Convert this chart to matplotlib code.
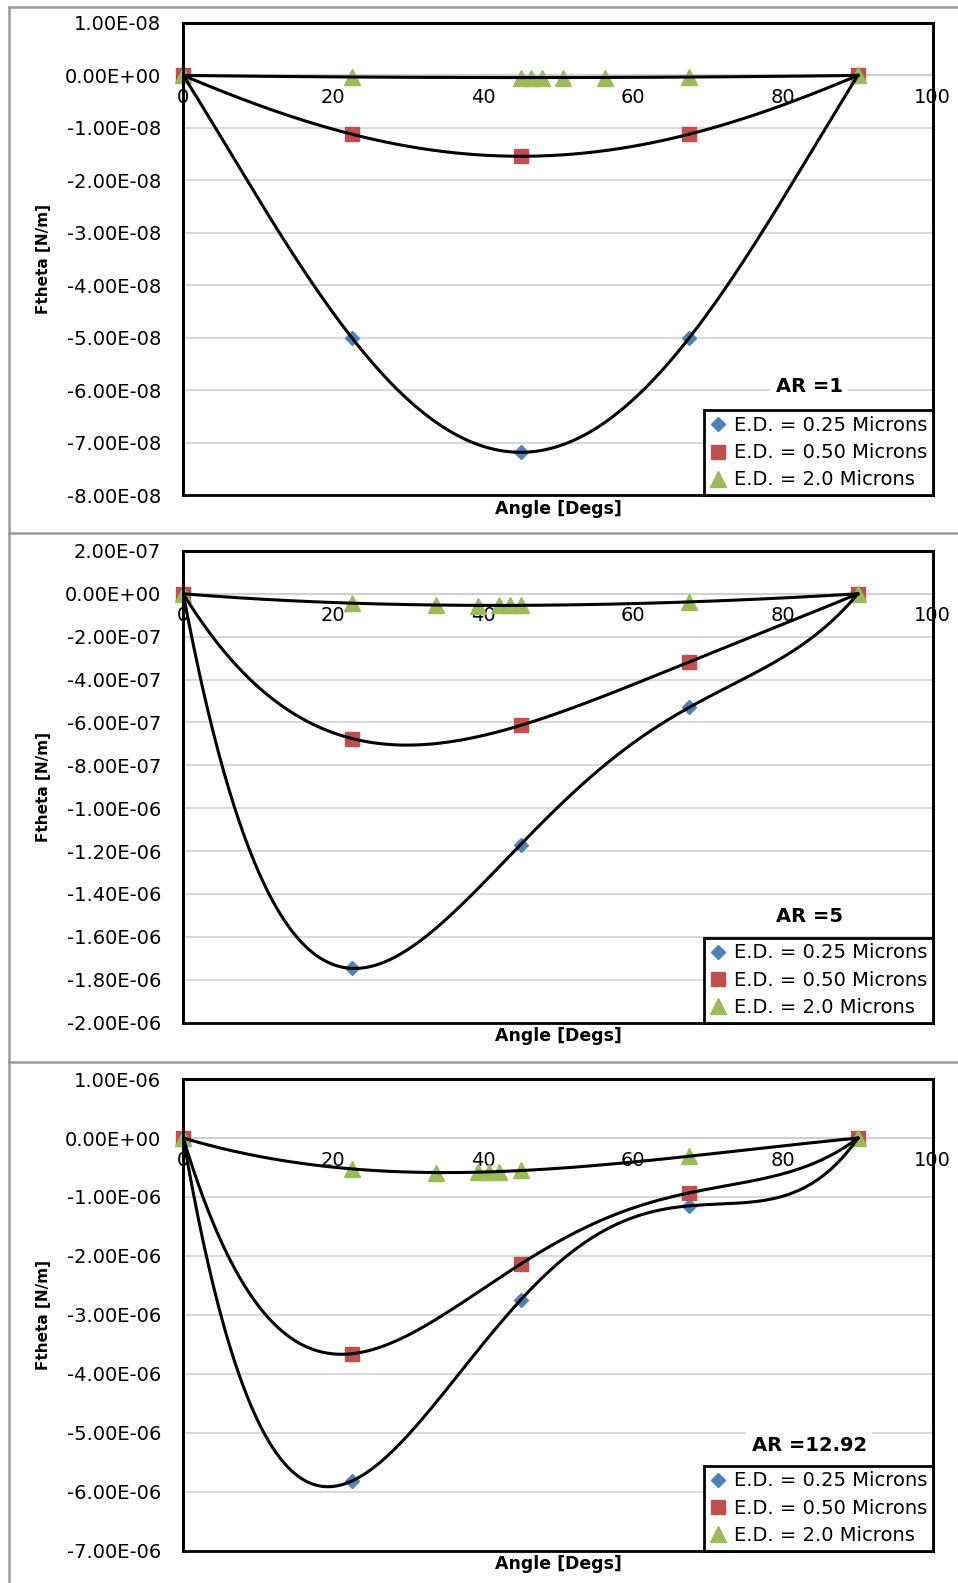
import matplotlib.pyplot as plt
import numpy as np
from matplotlib.lines import Line2D
from matplotlib.patches import Rectangle

# angles of the computed points [degs]
angle = [0, 22.5, 45, 67.5, 90]

# AR = 1
ar1_ed025 = [0, -5.00e-08, -7.18e-08, -5.00e-08, 0]
ar1_ed050 = [0, -1.12e-08, -1.54e-08, -1.12e-08, 0]
ar1_ed20_angle = [0, 22.5, 45, 46.41, 47.81, 50.63, 56.25, 67.5, 90]
ar1_ed20 = [0, -3e-10, -4e-10, -4e-10, -4e-10, -4e-10, -4e-10, -3e-10, 0]

# AR = 5
ar5_ed025 = [0, -1.747e-06, -1.17e-06, -5.30e-07, 0]
ar5_ed050 = [0, -6.75e-07, -6.14e-07, -3.18e-07, 0]
ar5_ed20_angle = [0, 22.5, 33.75, 39.38, 42.19, 43.59, 45, 67.5, 90]
ar5_ed20 = [0, -4.4e-08, -5.2e-08, -5.5e-08, -5.4e-08, -5.4e-08, -5.4e-08, -3.8e-08, 0]

# AR = 12.92
ar13_ed025 = [0, -5.82e-06, -2.75e-06, -1.15e-06, 0]
ar13_ed050 = [0, -3.66e-06, -2.14e-06, -0.93e-06, 0]
ar13_ed20_angle = [0, 22.5, 33.75, 39.38, 40.78, 42.19, 45, 67.5, 90]
ar13_ed20 = [0, -0.52e-06, -0.59e-06, -0.58e-06, -0.58e-06, -0.57e-06, -0.54e-06, -0.31e-06, 0]

labels = ['E.D. = 0.25 Microns', 'E.D. = 0.50 Microns', 'E.D. = 2.0 Microns']
colors = ['#4F81BD', '#C0504D', '#9BBB59']
markers = ['D', 's', '^']
msizes = [7.5, 10, 11]

panels = [
    ('AR =1', [(angle, ar1_ed025), (angle, ar1_ed050), (ar1_ed20_angle, ar1_ed20)],
     np.arange(-8, 2) * 1e-08),
    ('AR =5', [(angle, ar5_ed025), (angle, ar5_ed050), (ar5_ed20_angle, ar5_ed20)],
     np.arange(-10, 2) * 2e-07),
    ('AR =12.92', [(angle, ar13_ed025), (angle, ar13_ed050), (ar13_ed20_angle, ar13_ed20)],
     np.arange(-7, 2) * 1e-06),
]
ax_pos = [
    [0.1913, 0.6871, 0.7824, 0.2984],
    [0.1913, 0.3540, 0.7824, 0.2980],
    [0.1913, 0.0205, 0.7824, 0.2978],
]
title_y = [0.2255, 0.2204, 0.217]

fsize = 14
fig = plt.figure(figsize=(9.58, 15.83), dpi=100)

# gray frames around the three charts
for yy in [1 - 7 / 1583, 1 - 533 / 1583, 1 - 1062 / 1583]:
    fig.add_artist(Line2D([0.0094, 1.0], [yy, yy], transform=fig.transFigure,
                          color='#999999', lw=1.8))
fig.add_artist(Line2D([0.0094, 0.0094], [0.0, 1 - 7 / 1583], transform=fig.transFigure,
                      color='#999999', lw=1.8))

for (title, series, yticks), pos, ty in zip(panels, ax_pos, title_y):
    ax = fig.add_axes(pos)
    # x axis crosses at zero, like the Excel chart
    ax.spines['bottom'].set_position(('data', 0))
    ax.spines['bottom'].set_color('#d0d0d0')
    ax.spines['bottom'].set_linewidth(1.5)

    for (xs, ys), lab, c, m, ms in zip(series, labels, colors, markers, msizes):
        ax.plot(xs, ys, linestyle='none', marker=m, markersize=ms, color=c,
                label=lab, zorder=3, clip_on=False)
    # polynomial trendlines (order 4) on top of the markers
    for xs, ys in series:
        scale = max(abs(v) for v in ys)
        coef = np.polyfit(xs, np.array(ys) / scale, 4)
        xx = np.linspace(0, 90, 400)
        ax.plot(xx, np.polyval(coef, xx) * scale, color='black', lw=2.2, zorder=4)

    ax.set_xlim(0, 100)
    ax.set_ylim(yticks[0], yticks[-1])
    ax.set_yticks(yticks)
    ax.set_yticklabels(['{:.2E}'.format(v) for v in yticks])
    ax.set_xticks([0, 20, 40, 60, 80, 100])
    ax.set_xticklabels(['0', '20', '40', '60', '80', '100'])
    ax.tick_params(axis='both', length=0, labelsize=fsize)
    ax.tick_params(axis='y', pad=16)
    ax.tick_params(axis='x', pad=9)
    for s in ['left', 'right', 'top']:
        ax.spines[s].set_linewidth(2)
        ax.spines[s].set_color('black')
    ax.add_patch(Rectangle((0, 0), 1, 1, transform=ax.transAxes, fill=False,
                           ec='black', lw=2, zorder=5, clip_on=False))
    ax.yaxis.grid(True, color='#d9d9d9', lw=1.5)
    ax.set_axisbelow(True)

    ax.text(-0.186, 0.5, 'Ftheta [N/m]', transform=ax.transAxes, rotation=90,
            ha='center', va='center', fontsize=11, fontweight='bold')
    ax.text(0.501, -0.029, 'Angle [Degs]', transform=ax.transAxes,
            ha='center', va='center', fontsize=12.5, fontweight='bold')
    ax.text(0.835, ty + 0.005, title, transform=ax.transAxes, ha='center', va='center',
            fontsize=fsize, fontweight='bold', zorder=6,
            bbox=dict(facecolor='white', edgecolor='none', pad=4))

    leg = ax.legend(loc='lower right', bbox_to_anchor=(1, 0), borderaxespad=0,
                    fontsize=fsize, fancybox=False, framealpha=1, edgecolor='black',
                    handlelength=0.8, handletextpad=0.4, labelspacing=0.42,
                    borderpad=0.3)
    leg.get_frame().set_linewidth(2)
    leg.set_zorder(7)

plt.savefig('out.png', dpi=100)
